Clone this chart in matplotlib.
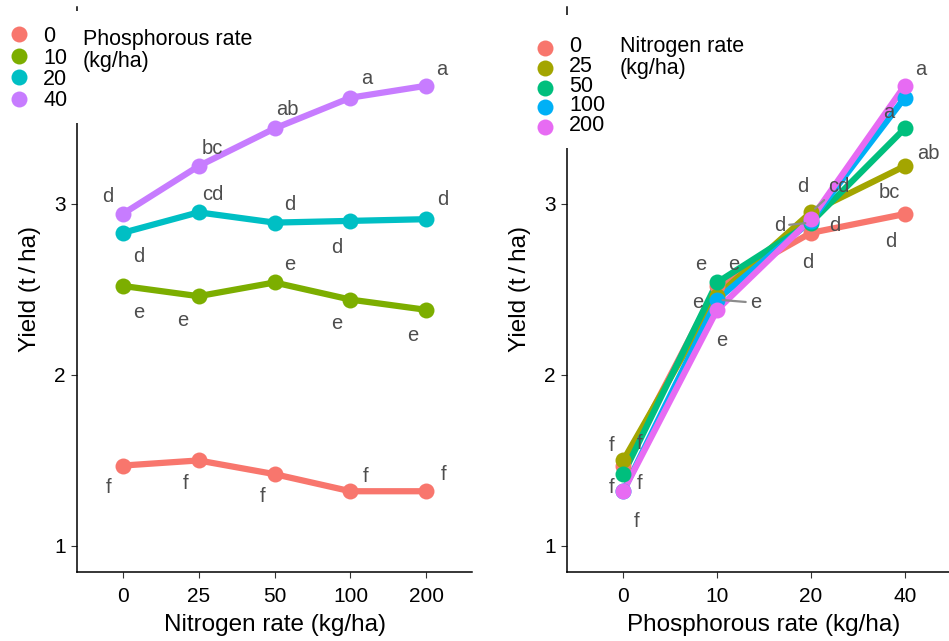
import matplotlib
matplotlib.use('Agg')
import matplotlib.pyplot as plt
from matplotlib.lines import Line2D
from matplotlib.patches import Rectangle

plt.rcParams['font.family'] = ['Liberation Sans', 'DejaVu Sans']

# ---------------- data ----------------
nitrogen_rates = ['0', '25', '50', '100', '200']
phosphorous_rates = ['0', '10', '20', '40']

# yield (t/ha) for each phosphorous rate across nitrogen rates
yield_p0 = [1.47, 1.50, 1.42, 1.32, 1.32]
yield_p10 = [2.52, 2.46, 2.54, 2.44, 2.38]
yield_p20 = [2.83, 2.95, 2.89, 2.90, 2.91]
yield_p40 = [2.94, 3.22, 3.44, 3.62, 3.69]

letters_p0 = ['f', 'f', 'f', 'f', 'f']
letters_p10 = ['e', 'e', 'e', 'e', 'e']
letters_p20 = ['d', 'cd', 'd', 'd', 'd']
letters_p40 = ['d', 'bc', 'ab', 'a', 'a']

yields_by_p = [yield_p0, yield_p10, yield_p20, yield_p40]
letters_by_p = [letters_p0, letters_p10, letters_p20, letters_p40]

colors_p = ['#F8766D', '#7CAE00', '#00BFC4', '#C77CFF']
colors_n = ['#F8766D', '#A3A500', '#00BF7D', '#00B0F6', '#E76BF3']

# label offsets in pixels (right, down) relative to each point (repel-like layout)
left_offsets = [
    [(-14.3, 22.3), (-13, 23.4), (-11.7, 21.9), (15.6, -15), (16.9, -16.8)],
    [(15.7, 26.9), (-16, 24.7), (15.3, -17.7), (-13.4, 24.2), (-14.1, 26)],
    [(15.7, 23.9), (14, -17.5), (15.3, -17.8), (-13.4, 26.9), (15.9, -19.4)],
    [(-15.3, -17.3), (14, -17.4), (13.3, -18.8), (16.6, -19), (14.9, -16)],
]
right_offsets = [
    [(16.3, -22), (16.4, -21.1), (-3.5, 30), (-14.4, 27.7)],
    [(-11.7, -15), (-19.6, 6.7), (27.5, -25.5), (-15.4, 25.9)],
    [(-11.7, 13), (-16.6, -17.7), (-31.5, 3.2), (23.6, 24.9)],
    [(13.3, 30), (38.4, 3.2), (23.5, 4.9), (-16.4, 15)],
    [(16.3, -7.8), (4.4, 31), (-8.5, -32.4), (15.6, -16)],
]
right_segments = {(3, 1), (1, 2), (2, 2)}

# ---------------- layout helpers ----------------
W, H = 949, 641
def fx(px):
    return px / W
def fy(py):
    return 1 - py / H

PT = 0.72  # points per pixel at 100 dpi
TICK_FS = 15
TITLE_FS = 17.5
LEG_FS = 15.5
LAB_FS = 14.5
LINE_W = 4.5
MARK_S = 11.5
TXT_GRAY = '#4D4D4D'

fig = plt.figure(figsize=(W / 100, H / 100), dpi=100)
axL = fig.add_axes([fx(77), fy(572), 395 / W, 565 / H])
axR = fig.add_axes([fx(567), fy(572), 394 / W, 565 / H])

def style(ax, ncat, ticklabels, xlabel):
    ax.set_xlim(-0.6, ncat - 1 + 0.6)
    ax.set_ylim(0.848, 4.15)
    ax.set_xticks(range(ncat))
    ax.set_xticklabels(ticklabels)
    ax.set_yticks([1, 2, 3])
    for s in ['top', 'right']:
        ax.spines[s].set_visible(False)
    for s in ['left', 'bottom']:
        ax.spines[s].set_linewidth(1.1)
        ax.spines[s].set_color('black')
    ax.tick_params(axis='both', direction='out', length=4.2, width=0.8,
                   color='#333333', labelsize=TICK_FS, labelcolor='black')
    ax.tick_params(axis='x', pad=6.5)
    ax.tick_params(axis='y', pad=4)
    ax.set_xlabel(xlabel, fontsize=TITLE_FS)
    ax.set_ylabel('Yield (t\u2009/\u2009ha)', fontsize=TITLE_FS)
    ax.xaxis.label.set_va('center')
    ax.yaxis.label.set_va('center')
    ax.xaxis.set_label_coords(0.5, (572 - 625) / 565)
    ax.yaxis.set_label_coords(-47 / 395, 0.5)

style(axL, len(nitrogen_rates), nitrogen_rates, 'Nitrogen rate (kg/ha)')
style(axR, len(phosphorous_rates), phosphorous_rates, 'Phosphorous rate (kg/ha)')

# ---------------- left panel: x = nitrogen, series = phosphorous ----------------
xl = list(range(len(nitrogen_rates)))
for pi, ys in enumerate(yields_by_p):
    axL.plot(xl, ys, color=colors_p[pi], lw=LINE_W, solid_capstyle='round', zorder=2)
for pi, ys in enumerate(yields_by_p):
    axL.plot(xl, ys, linestyle='none', marker='o', ms=MARK_S, mew=0,
             color=colors_p[pi], zorder=2.5)
for pi, ys in enumerate(yields_by_p):
    for ni, y in enumerate(ys):
        dx, dy = left_offsets[pi][ni]
        axL.annotate(letters_by_p[pi][ni], xy=(ni, y), xytext=(dx * PT, -dy * PT),
                     textcoords='offset points', ha='center', va='center',
                     fontsize=LAB_FS, color=TXT_GRAY, zorder=3)

# ---------------- right panel: x = phosphorous, series = nitrogen ----------------
xr = list(range(len(phosphorous_rates)))
series_n = [[yields_by_p[pi][ni] for pi in range(len(phosphorous_rates))]
            for ni in range(len(nitrogen_rates))]
letters_n = [[letters_by_p[pi][ni] for pi in range(len(phosphorous_rates))]
             for ni in range(len(nitrogen_rates))]
for ni, ys in enumerate(series_n):
    axR.plot(xr, ys, color=colors_n[ni], lw=LINE_W, solid_capstyle='round', zorder=2)
for ni, ys in enumerate(series_n):
    axR.plot(xr, ys, linestyle='none', marker='o', ms=MARK_S, mew=0,
             color=colors_n[ni], zorder=2.5)
for ni, ys in enumerate(series_n):
    for pj, y in enumerate(ys):
        dx, dy = right_offsets[ni][pj]
        kw = {}
        if (ni, pj) in right_segments:
            kw['arrowprops'] = dict(arrowstyle='-', color='#8C8C8C', lw=1.6,
                                    shrinkA=1, shrinkB=4)
        axR.annotate(letters_n[ni][pj], xy=(pj, y), xytext=(dx * PT, -dy * PT),
                     textcoords='offset points', ha='center', va='center',
                     fontsize=LAB_FS, color=TXT_GRAY, zorder=3, **kw)

# ---------------- legends (white boxes overlapping the axis line) ----------------
fig.add_artist(Rectangle((fx(0), fy(123)), 262 / W, 112 / H, transform=fig.transFigure,
                         facecolor='white', edgecolor='none', zorder=5))
fig.add_artist(Rectangle((fx(528), fy(148)), 222 / W, 133 / H, transform=fig.transFigure,
                         facecolor='white', edgecolor='none', zorder=5))

left_rows = [34, 55.5, 77, 98.5]
for i, lab in enumerate(phosphorous_rates):
    fig.add_artist(Line2D([fx(19)], [fy(left_rows[i])], transform=fig.transFigure,
                          marker='o', ms=MARK_S, mew=0, color=colors_p[i],
                          linestyle='none', zorder=6))
    fig.text(fx(43), fy(left_rows[i] + 2.5), lab, fontsize=LEG_FS, ha='left', va='center',
             zorder=6)
fig.text(fx(83), fy(45), 'Phosphorous rate', fontsize=LEG_FS, ha='left', va='baseline', zorder=6)
fig.text(fx(83), fy(67), '(kg/ha)', fontsize=LEG_FS, ha='left', va='baseline', zorder=6)

right_rows = [48.3, 67.9, 87.6, 107.3, 127.0]
for i, lab in enumerate(nitrogen_rates):
    fig.add_artist(Line2D([fx(545)], [fy(right_rows[i])], transform=fig.transFigure,
                          marker='o', ms=MARK_S, mew=0, color=colors_n[i],
                          linestyle='none', zorder=6))
    fig.text(fx(569), fy(right_rows[i] - 1.5), lab, fontsize=LEG_FS, ha='left', va='center',
             zorder=6)
fig.text(fx(620), fy(52.3), 'Nitrogen rate', fontsize=LEG_FS, ha='left', va='baseline', zorder=6)
fig.text(fx(620), fy(74), '(kg/ha)', fontsize=LEG_FS, ha='left', va='baseline', zorder=6)

fig.savefig('out.png', dpi=100)
